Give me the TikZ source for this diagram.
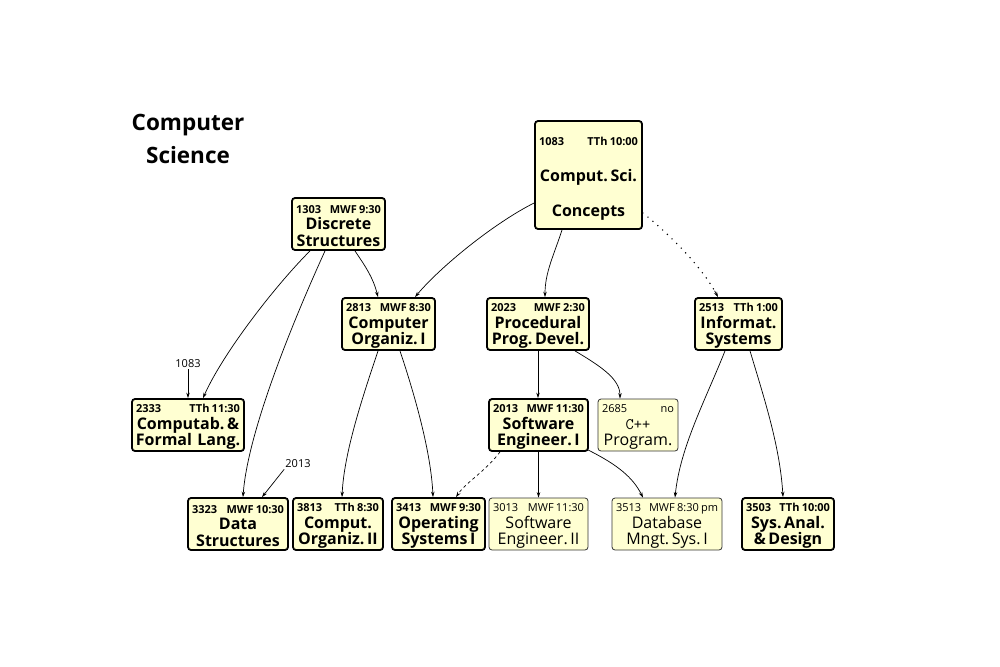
\documentclass[tikz,border=0pt]{standalone}
\usepackage{fontspec}
\setmainfont{Open Sans}
\usetikzlibrary{arrows.meta,calc}
\definecolor{boxfill}{RGB}{255,255,210}
\newcommand\hdr[2]{{\fontsize{11}{12}\selectfont\spaceskip=0.2em\rule{0pt}{12pt}\makebox[\hsize]{\hspace{1pt}#1\hfill #2\hspace{1pt}}}}
\begin{document}
\begin{tikzpicture}[x=1pt,y=-1pt,
  course/.style={draw, fill=boxfill, rounded corners=3pt, line width=1.8pt, inner xsep=3pt, inner ysep=0pt,
     align=center, font=\fontsize{16}{16.8}\selectfont\bfseries},
  thin/.style={draw=black!80, fill=boxfill, rounded corners=3pt, line width=0.8pt, inner xsep=3pt, inner ysep=0pt,
     align=center, font=\fontsize{16}{16.8}\selectfont},
  arr/.style={line width=0.7pt, -{Stealth[length=5.5pt,width=3.5pt]}},
  lbl/.style={font=\fontsize{11}{12}\selectfont, inner sep=1pt}]
\useasboundingbox (0,0) rectangle (1000,666);

% title
\node[font=\fontsize{22.5}{33}\selectfont\bfseries, align=center] (title) at (188,139) {Computer\\Science};

% row 1
\node[course, minimum width=107pt, minimum height=108pt, text width=101pt] (c1083) at (588.5,175)
  {\rule{0pt}{16pt}\hdr{1083}{TTh 10:00}\\[18.5pt] Comput.\,Sci.\\[18.5pt] Concepts};
\node[course, minimum width=93pt, minimum height=52pt, text width=87pt] (c1303) at (338.5,224)
  {\hdr{1303}{MWF 9:30}\\ Discrete\\ Structures};

% row 2
\node[course, minimum width=93pt, minimum height=52pt, text width=87pt] (c2813) at (388.5,324)
  {\hdr{2813}{MWF 8:30}\\ Computer\\ Organiz.\,I};
\node[course, minimum width=102pt, minimum height=52pt, text width=96pt] (c2023) at (538,324)
  {\hdr{2023}{MWF 2:30}\\ Procedural\\ Prog.\,Devel.};
\node[course, minimum width=87pt, minimum height=52pt, text width=81pt] (c2513) at (738.5,324)
  {\hdr{2513}{TTh 1:00}\\ Informat.\\ Systems};

% row 3
\node[course, minimum width=112pt, minimum height=52pt, text width=106pt] (c2333) at (188,425)
  {\hdr{2333}{TTh 11:30}\\ Computab.\,\&\\ Formal Lang.};
\node[course, minimum width=99pt, minimum height=52pt, text width=93pt] (c2013) at (538.5,425)
  {\hdr{2013}{MWF 11:30}\\ Software\\ Engineer.\,I};
\node[thin, minimum width=80pt, minimum height=52pt, text width=74pt] (c2685) at (638,425)
  {\hdr{2685}{no}\\ {\ttfamily C++}\\ Program.};

% row 4
\node[course, minimum width=100pt, minimum height=52pt, text width=94pt] (c3323) at (238,524)
  {\hdr{3323}{MWF 10:30}\\ Data\\ Structures};
\node[course, minimum width=90pt, minimum height=52pt, text width=84pt] (c3813) at (338,524)
  {\hdr{3813}{TTh 8:30}\\ Comput.\\ Organiz.\,II};
\node[course, minimum width=93pt, minimum height=52pt, text width=87pt] (c3413) at (438.5,524)
  {\hdr{3413}{MWF 9:30}\\ Operating\\ Systems\,I};
\node[thin, minimum width=99pt, minimum height=52pt, text width=93pt] (c3013) at (538.5,524)
  {\hdr{3013}{MWF 11:30}\\ Software\\ Engineer.\,II};
\node[thin, minimum width=110pt, minimum height=52pt, text width=104pt] (c3513) at (667,524)
  {\hdr{3513}{MWF 8:30 pm}\\ Database\\ Mngt.\,Sys.\,I};
\node[course, minimum width=92pt, minimum height=52pt, text width=86pt] (c3503) at (788,524)
  {\hdr{3503}{TTh 10:00}\\ Sys.\,Anal.\\ \&\,Design};

% edge labels
\node[lbl] (l1083) at (188,364) {1083};
\node[lbl] (l2013) at (298,464) {2013};

% edges
\draw[arr] ($(c1083.west)+(0,28)$) .. controls +(-40,20) and +(25,-30) .. ($(c2813.north)+(26.5,0)$);
\draw[arr] ($(c1083.south)+(-26.5,0)$) .. controls +(-8,25) and +(0,-25) .. ($(c2023.north)+(7,0)$);
\draw[line cap=round, dash pattern=on 0pt off 6.5pt, line width=1.6pt] ($(c1083.east)+(0,38)$) .. controls +(25,20) and +(-15,-30) .. coordinate[pos=0.93] (dotend) ($(c2513.north)+(-20.5,0)$);
\draw[arr] (dotend) -- ($(c2513.north)+(-20.5,0)$);

\draw[arr] ($(c1303.south)+(16.5,0)$) .. controls +(10,15) and +(-5,-20) .. ($(c2813.north)+(-10.5,0)$);
\draw[arr] ($(c1303.south)+(-28.5,0)$) .. controls +(-35,35) and +(20,-45) .. ($(c2333.north)+(15,0)$);
\draw[arr] ($(c1303.south)+(-13.5,0)$) .. controls +(-25,55) and +(5,-70) .. ($(c3323.north)+(5,0)$);

\draw[arr] ($(c2813.south)+(-10.5,0)$) .. controls +(-15,45) and +(2,-45) .. ($(c3813.north)+(4,0)$);
\draw[arr] ($(c2813.south)+(11.5,0)$) .. controls +(15,45) and +(-2,-45) .. ($(c3413.north)+(-5.5,0)$);

\draw[arr] (c2023.south) -- (c2023.south |- c2013.north);
\draw[arr] ($(c2023.south)+(37,0)$) .. controls +(25,15) and +(0,-20) .. ($(c2685.north)+(-18,0)$);

\draw[arr] (c2013.south) -- (c3013.north);
\draw[arr, dashed] ($(c2013.south)+(-38.5,0)$) .. controls +(-15,20) and +(10,-15) .. ($(c3413.north)+(17.5,0)$);
\draw[arr] ($(c2013.south east)+(-1,-2)$) .. controls +(30,15) and +(-10,-20) .. ($(c3513.north)+(-24,0)$);

\draw[arr] ($(c2513.south)+(-13.5,0)$) .. controls +(-20,50) and +(5,-50) .. ($(c3513.north)+(8,0)$);
\draw[arr] ($(c2513.south)+(11.5,0)$) .. controls +(15,50) and +(-3,-50) .. ($(c3503.north)+(-5,0)$);

\draw[arr] (l1083.south) -- (l1083.south |- c2333.north);
\draw[arr] (l2013.south west) -- ($(c3323.north)+(24,0)$);
\end{tikzpicture}
\end{document}
